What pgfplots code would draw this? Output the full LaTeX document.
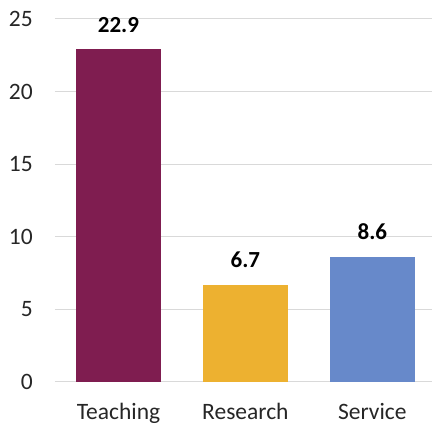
\documentclass[border=0pt]{standalone}
\usepackage{fontspec}
\setmainfont{Carlito}
\usepackage{pgfplots}
\pgfplotsset{compat=1.18}
\definecolor{teach}{RGB}{127,29,80}
\definecolor{resgold}{RGB}{237,177,48}
\definecolor{servblue}{RGB}{103,137,202}
\definecolor{gridgray}{RGB}{217,217,217}

\begin{document}
\begin{tikzpicture}[x=1pt,y=1pt]
\useasboundingbox (0,0) rectangle (432,425);
\begin{axis}[
    at={(55pt,43pt)}, anchor=south west,
    scale only axis, width=377pt, height=363pt,
    xmin=-0.5, xmax=2.47, ymin=0, ymax=25,
    ytick={0,5,...,25},
    xtick={0,1,2},
    xticklabels={Teaching,Research,Service},
    ymajorgrids,
    grid style={draw=gridgray, line width=1pt},
    axis line style={draw=none},
    major tick length=0pt,
    /pgf/number format/assume math mode=true,
    tick label style={font=\fontsize{23.5}{28}\selectfont, text=black!85},
    yticklabel style={anchor=east, inner sep=0pt, xshift=-22pt},
    xticklabel style={anchor=base, inner sep=0pt, yshift=-38pt},
    ybar, bar width=85pt, bar shift=0pt,
    nodes near coords={\pgfmathprintnumber[fixed,precision=1,fixed zerofill]{\pgfplotspointmeta}},
    every node near coord/.append style={font=\fontsize{23}{28}\selectfont\bfseries, text=black, anchor=south, inner sep=0pt, yshift=17pt},
]
\addplot[draw=none, fill=teach] coordinates {(0,22.9)};
\addplot[draw=none, fill=resgold] coordinates {(1,6.7)};
\addplot[draw=none, fill=servblue] coordinates {(2,8.6)};
\end{axis}
\end{tikzpicture}
\end{document}
